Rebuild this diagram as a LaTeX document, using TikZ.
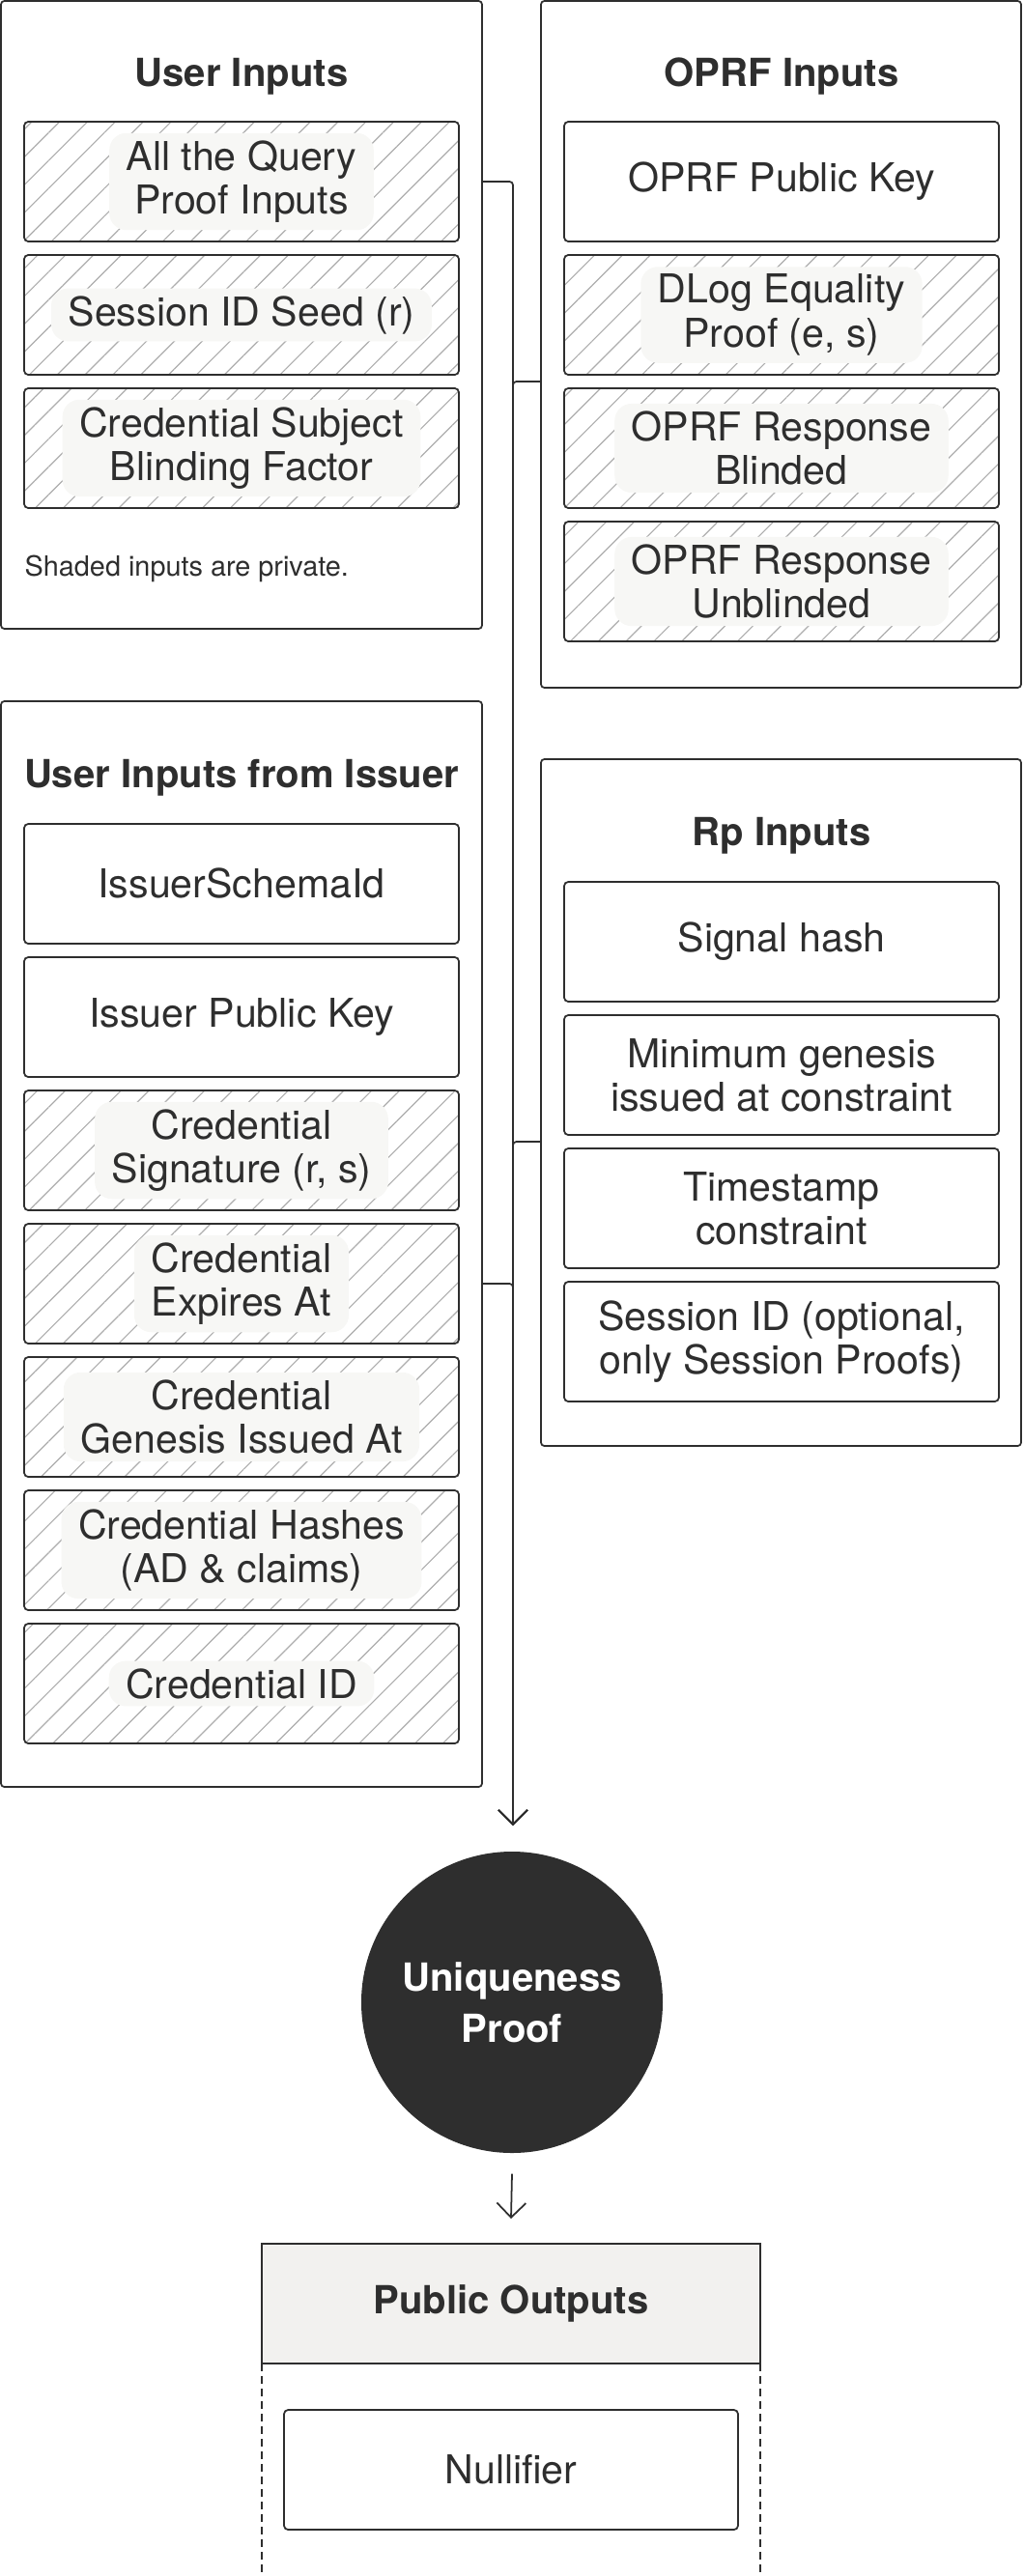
\documentclass[tikz,border=0pt]{standalone}
\usepackage{fontspec}
\setmainfont{TeX Gyre Heros}
\usetikzlibrary{arrows.meta,patterns.meta,calc}
\definecolor{ink}{HTML}{2E2E2E}
\definecolor{hatch}{HTML}{ADADAD}
\definecolor{patchgray}{HTML}{F7F7F5}
\definecolor{headgray}{HTML}{F2F1EF}
\begin{document}
\begin{tikzpicture}[font=\fontsize{11.7}{12.9}\selectfont,text=ink,x=1cm,y=1cm]
    \tikzset{
        group/.style={
            draw=ink,line width=0.5pt,rounded corners=1pt,
            anchor=north west,inner sep=0pt,outer sep=0pt
        },
        heading/.style={font=\fontsize{11.4}{12}\selectfont\bfseries},
        item/.style={
            draw=ink,line width=0.5pt,rounded corners=1.2pt,
            minimum width=4.50cm,minimum height=1.24cm,
            inner sep=2pt,outer sep=0pt,align=center
        },
        private/.style={
            item,pattern={Lines[angle=45,distance=5.8pt,line width=0.33pt]},
            pattern color=hatch
        },
        patch/.style={
            fill=patchgray,rounded corners=5pt,
            inner xsep=5pt,inner ysep=2.2pt,align=center
        },
        flow/.style={
            draw=ink,line width=0.5pt,rounded corners=1pt,
            -{Straight Barb[length=0.15cm,width=0.30cm]}
        }
    }
    \useasboundingbox (0,0) rectangle (10.59,-26.67);

    \node[group,minimum width=4.98cm,minimum height=6.50cm]
        (userin) at (0.01,-0.01) {};
    \node[heading] (userin-t) at (2.50,-0.79) {User Inputs};
    \node[private,label={[patch]center:{All the Query\\Proof Inputs}}]
        (query) at (2.50,-1.88) {};
    \node[private,label={[patch]center:{Session ID Seed (r)}}]
        (seed) at (2.50,-3.26) {};
    \node[private,label={[patch]center:{Credential Subject\\Blinding Factor}}]
        (blinding) at (2.50,-4.64) {};
    \node[font=\fontsize{8.2}{10}\selectfont,anchor=west,inner sep=0pt]
        (note) at (0.25,-5.89) {Shaded inputs are private.};

    \node[group,minimum width=4.97cm,minimum height=7.11cm]
        (oprf) at (5.60,-0.01) {};
    \node[heading] (oprf-t) at (8.09,-0.79) {OPRF Inputs};
    \node[item] (oprf-key) at (8.09,-1.88) {OPRF Public Key};
    \node[private,label={[patch]center:{DLog Equality\\Proof (e, s)}}]
        (dlog) at (8.09,-3.26) {};
    \node[private,label={[patch]center:{OPRF Response\\Blinded}}]
        (blinded) at (8.09,-4.64) {};
    \node[private,label={[patch]center:{OPRF Response\\Unblinded}}]
        (unblinded) at (8.09,-6.02) {};

    \node[group,minimum width=4.98cm,minimum height=11.24cm]
        (issuer) at (0.01,-7.26) {};
    \node[heading] (issuer-t) at (2.50,-8.05) {User Inputs from Issuer};
    \node[item] (schema) at (2.50,-9.15) {IssuerSchemaId};
    \node[item] (issuer-key) at (2.50,-10.53) {Issuer Public Key};
    \node[private,label={[patch]center:{Credential\\Signature (r, s)}}]
        (signature) at (2.50,-11.91) {};
    \node[private,label={[patch]center:{Credential\\Expires At}}]
        (expires) at (2.50,-13.29) {};
    \node[private,label={[patch]center:{Credential\\Genesis Issued At}}]
        (genesis) at (2.50,-14.67) {};
    \node[private,label={[patch]center:{Credential Hashes\\(AD \& claims)}}]
        (hashes) at (2.50,-16.05) {};
    \node[private,label={[patch]center:{Credential ID}}]
        (cred-id) at (2.50,-17.43) {};

    \node[group,minimum width=4.97cm,minimum height=7.11cm]
        (rp) at (5.60,-7.86) {};
    \node[heading] (rp-t) at (8.09,-8.65) {Rp Inputs};
    \node[item] (signal) at (8.09,-9.75) {Signal hash};
    \node[item] (min-genesis) at (8.09,-11.13)
        {Minimum genesis\\issued at constraint};
    \node[item] (stamp) at (8.09,-12.51) {Timestamp\\constraint};
    \node[item] (session) at (8.09,-13.89)
        {Session ID (optional,\\only Session Proofs)};

    \coordinate (join) at (5.31,-18.90);
    \draw[flow] (userin.east |- query) -| (join);
    \draw[flow] (oprf.west |- {$(dlog.south)!.5!(blinded.north)$}) -| (join);
    \draw[flow] (rp.west |- {$(min-genesis.south)!.5!(stamp.north)$}) -| (join);
    \draw[flow] (issuer.east |- expires) -| (join);

    \node[circle,fill=ink,minimum size=3.12cm,inner sep=0pt,align=center,
        text=white,font=\fontsize{11.4}{15}\selectfont\bfseries]
        (proof) at (5.30,-20.73) {Uniqueness\\Proof};

    \node[draw=ink,line width=0.5pt,fill=headgray,heading,
        minimum width=5.16cm,minimum height=1.24cm,outer sep=0pt]
        (outhead) at (5.29,-23.85) {Public Outputs};
    \draw[ink,line width=0.5pt,dash pattern=on 2.3pt off 1.4pt]
        (outhead.south west) -- ++(0,-2.40);
    \draw[ink,line width=0.5pt,dash pattern=on 2.3pt off 1.4pt]
        (outhead.south east) -- ++(0,-2.40);
    \node[item,minimum width=4.70cm] (nullifier) at (5.29,-25.57) {Nullifier};

    \draw[flow] ([yshift=-0.21cm]proof.south) -- ([yshift=0.26cm]outhead.north);
\end{tikzpicture}
\end{document}
